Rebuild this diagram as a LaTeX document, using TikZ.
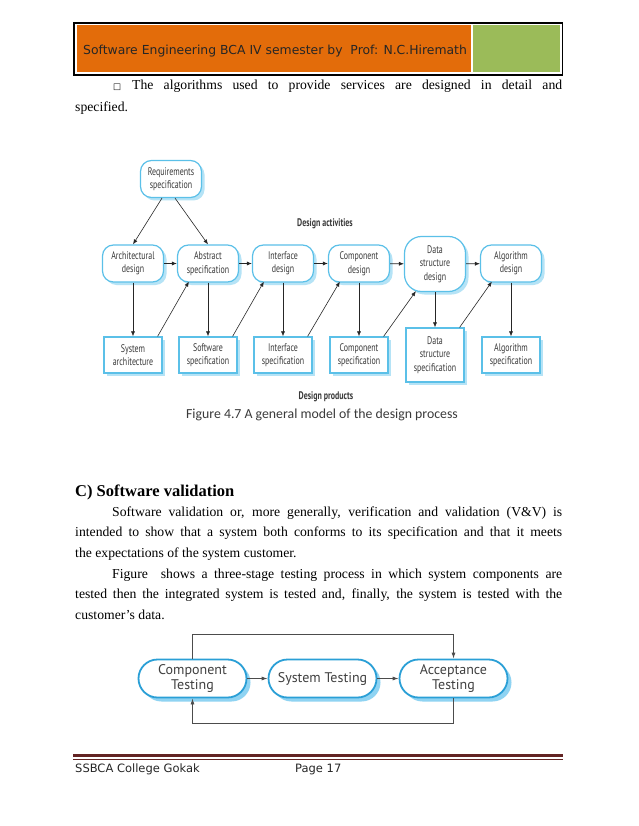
\documentclass[tikz,border=0pt]{standalone}
\usepackage{fontspec}
\setmainfont{Liberation Serif}
\newfontfamily\hdfont{DejaVu Sans}
\newfontfamily\figfont[FakeStretch=0.72]{PT Sans}
\newfontfamily\capfont{Carlito}
\newfontfamily\stagefont{PT Sans}
\usetikzlibrary{arrows.meta,shadows}

\definecolor{hdorange}{HTML}{E36C0A}
\definecolor{hdgreen}{HTML}{9BBB59}
\definecolor{footred}{HTML}{632423}
\definecolor{boxblue}{HTML}{5BC0E8}
\definecolor{shadeblue}{HTML}{B5E3F6}
\definecolor{stageblue}{HTML}{2A9FD6}
\definecolor{stageshade}{HTML}{8FD3F2}
\definecolor{figtext}{HTML}{3A3A3A}

\tikzset{
  activity/.style={draw=boxblue, fill=white, line width=1.2pt, rounded corners=11pt,
    minimum width=61pt, minimum height=37pt, inner sep=1pt, align=center, text=figtext,
    font=\figfont\fontsize{11}{13.5}\selectfont,
    drop shadow={shadow xshift=3pt, shadow yshift=-3pt, fill=shadeblue, opacity=1}},
  product/.style={activity, rounded corners=0pt, minimum width=58pt, minimum height=36pt},
  flow/.style={draw=black!85, line width=0.6pt, -{Latex[length=5pt,width=4pt]}},
  stage/.style={draw=stageblue, fill=white, line width=1.8pt, rounded corners=19pt,
    minimum width=108pt, minimum height=38pt, align=center, text=black!75,
    font=\stagefont\fontsize{14}{15.5}\selectfont,
    drop shadow={shadow xshift=4pt, shadow yshift=-4pt, fill=stageshade, opacity=1}},
  link/.style={draw=black!70, line width=0.8pt, -{Latex[length=6pt,width=4pt]}},
  plain/.style={inner sep=0pt},
}

\begin{document}
\begin{tikzpicture}[x=1pt,y=-1pt]
\useasboundingbox[fill=white] (0,0) rectangle (638,826);

% page header
\fill[hdorange] (76.5,25) rectangle (471,72.5);
\fill[hdgreen] (473,25) rectangle (560,72.5);
\draw[line width=1.3pt] (74,23) rectangle (562.5,75);
\node[plain, anchor=base west, text=black!85, font=\hdfont\fontsize{12.4}{14}\selectfont]
  (hdtext) at (83,55) {Software Engineering BCA IV semester by\ \ Prof: N.C.Hiremath};

% first paragraph
\node[plain, anchor=north west, text width=487pt, align=justify,
  font=\fontsize{13.7}{22}\selectfont] (algpar) at (75,79.5)
  {\noindent\hspace*{38pt}{\hdfont\fontsize{8.5}{8.5}\selectfont □}\hspace{11pt}The algorithms used to provide services are designed in detail and\linebreak specified.};

% Figure 4.7
\node[activity] (req) at (171,179) {Requirements\\specification};
\node[activity] (arch) at (133,263.5) {Architectural\\design};
\node[activity] (abs) at (208,263.5) {Abstract\\specification};
\node[activity] (intf) at (283,263.5) {Interface\\design};
\node[activity] (comp) at (359,263.5) {Component\\design};
\node[activity, minimum height=55pt, rounded corners=17pt] (dsd) at (435,264) {Data\\structure\\design};
\node[activity] (alg) at (511,263.5) {Algorithm\\design};

\node[product] (sysarch) at (133,355) {System\\architecture};
\node[product] (swspec) at (208,355) {Software\\specification};
\node[product] (intspec) at (283,355) {Interface\\specification};
\node[product] (compspec) at (359,355) {Component\\specification};
\node[product, minimum height=54pt] (dss) at (435,355) {Data\\structure\\specification};
\node[product] (algspec) at (511,355) {Algorithm\\specification};

\draw[flow] ([xshift=-9pt]req.south) -- (arch.north);
\draw[flow] ([xshift=4pt]req.south) -- (abs.north);
\foreach \a/\b in {arch/abs, abs/intf, intf/comp, comp/dsd, dsd/alg}
  \draw[flow] (\a) -- (\b);
\foreach \a/\b in {arch/sysarch, abs/swspec, intf/intspec, comp/compspec, dsd/dss, alg/algspec}
  \draw[flow] (\a) -- (\b);
\foreach \a/\b in {sysarch/abs, swspec/intf, intspec/comp, compspec/dsd, dss/alg}
  \draw[flow] ([xshift=-5pt]\a.north east) -- ([xshift=12pt,yshift=1pt]\b.south west);

\node[plain, text=figtext, font=\figfont\bfseries\fontsize{11}{12}\selectfont] (actlbl) at (325,224) {Design activities};
\node[plain, text=figtext, font=\figfont\bfseries\fontsize{11}{12}\selectfont] (prodlbl) at (326,397) {Design products};
\node[plain, text=figtext, font=\capfont\fontsize{13.8}{15}\selectfont] (figcap) at (322,415) {Figure 4.7 A general model of the design process};

% section C
\node[plain, anchor=base west, font=\bfseries\fontsize{16.5}{20}\selectfont] (sechead) at (75,496) {C) Software validation};
\node[plain, anchor=north west, text width=487pt, align=justify,
  font=\fontsize{13.7}{20.6}\selectfont] (valpar) at (75,506.5)
  {\noindent\hspace*{37pt}Software validation or, more generally, verification and validation (V\&V) is\linebreak intended to show that a system both conforms to its specification and that it meets\linebreak the expectations of the system customer.\par
   \noindent\hspace*{37pt}Figure\ \ shows a three-stage testing process in which system components are\linebreak tested then the integrated system is tested and, finally, the system is tested with the\linebreak customer's data.};

% testing stages
\node[stage] (ct) at (192.5,678.5) {Component\\Testing};
\node[stage] (st) at (322.5,678.5) {System Testing};
\node[stage] (at) at (453.5,678.5) {Acceptance\\Testing};
\draw[link] (ct) -- (st);
\draw[link] (st) -- (at);
\draw[link] (ct.north) -- ++(0,-24) -| (at.north);
\draw[link] (at.south) -- ++(0,24.5) -| (ct.south);

% page footer
\draw[footred, line width=3pt] (73,755.5) -- (563,755.5);
\draw[footred, line width=0.9pt] (73,759.2) -- (563,759.2);
\node[plain, anchor=base west, text=black!85, font=\hdfont\fontsize{11.5}{13}\selectfont] (college) at (75,772) {SSBCA College Gokak};
\node[plain, anchor=base west, text=black!85, font=\hdfont\fontsize{11.5}{13}\selectfont] (pageno) at (295,772) {Page 17};
\end{tikzpicture}
\end{document}
